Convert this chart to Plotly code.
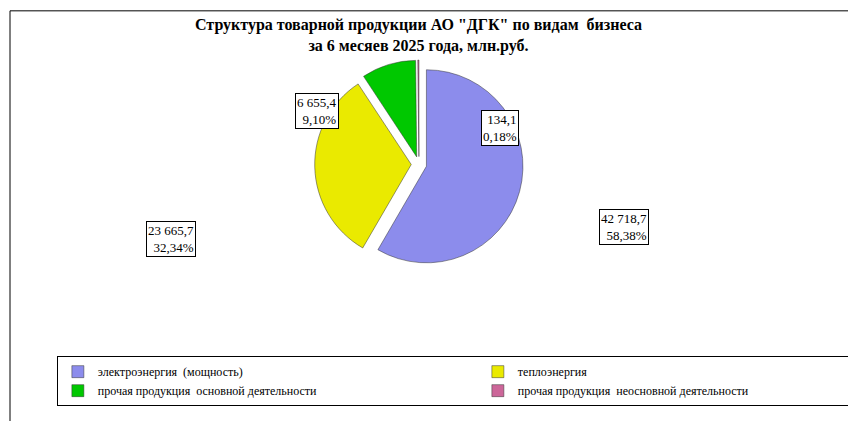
import plotly.graph_objects as go

labels = ["электроэнергия  (мощность)", "теплоэнергия",
          "прочая продукция  основной деятельности", "прочая продукция  неосновной деятельности"]
values = [42718.7, 23665.7, 6655.4, 134.1]
value_text = ["42 718,7", "23 665,7", "6 655,4", "134,1"]
pct_text = ["58,38%", "32,34%", "9,10%", "0,18%"]
colors = ["#8c8cec", "#eaea00", "#00c800", "#cc6699"]

fig = go.Figure()
fig.add_trace(go.Pie(
    labels=labels, values=values, sort=False, direction="clockwise", rotation=0,
    marker=dict(colors=colors, line=dict(color="#333333", width=0.5)),
    pull=[0.08, 0.08, 0.08, 0.08],
    textinfo="none", hoverinfo="label+value+percent",
    domain=dict(x=[0.3, 0.66], y=[0.38, 0.88]),
))

# data labels in boxes, like the original
lab_pos = [(0.75, 0.48), (0.16, 0.45), (0.36, 0.80), (0.575, 0.76)]
for (x, y), v, p in zip(lab_pos, value_text, pct_text):
    fig.add_annotation(x=x, y=y, xref="paper", yref="paper", showarrow=False,
                       text=v + "<br>" + p, align="right",
                       bordercolor="#000000", borderwidth=1, bgcolor="white",
                       font=dict(family="Times New Roman, Liberation Serif", size=13, color="black"))

fig.add_annotation(x=0.48, y=0.99, xref="paper", yref="paper", showarrow=False, yanchor="top",
                   text="<b>Структура товарной продукции АО \"ДГК\" по видам  бизнеса<br>за 6 месяев 2025 года, млн.руб.</b>",
                   font=dict(family="Times New Roman, Liberation Serif", size=16, color="black"))

fig.add_shape(type="rect", xref="paper", yref="paper", x0=0, y0=0, x1=0.998, y1=0.998,
              line=dict(color="black", width=1))

fig.update_layout(
    width=856, height=421,
    margin=dict(l=2, r=2, t=2, b=2, autoexpand=False),
    paper_bgcolor="white", plot_bgcolor="white",
    showlegend=True,
    legend=dict(orientation="h", x=0.055, y=0.05, xanchor="left", yanchor="bottom",
                bordercolor="black", borderwidth=1, bgcolor="white",
                entrywidth=375, itemwidth=30,
                font=dict(family="Times New Roman, Liberation Serif", size=12, color="black")),
)

fig.write_html("out.html")
